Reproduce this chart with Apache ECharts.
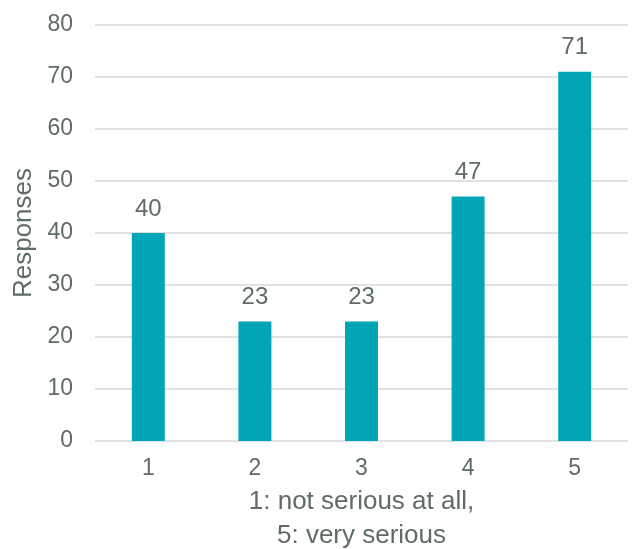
<!DOCTYPE html>
<html>
<head>
<meta charset="utf-8">
<script src="https://cdn.jsdelivr.net/npm/echarts@6/dist/echarts.min.js"></script>
<style>
  html, body { margin: 0; padding: 0; background: #fff; }
  #chart { width: 635px; height: 549px; }
</style>
</head>
<body>
<div id="chart"></div>
<script>
// Seriousness rating (1–5) and number of responses for each
const categories = ['1', '2', '3', '4', '5'];
const responses = [40, 23, 23, 47, 71];
const yTicks = { min: 0, max: 80, interval: 10 };

const textColor = '#5f6b6a';
const fontFamily = 'Liberation Sans, Arial, sans-serif';

const chart = echarts.init(document.getElementById('chart'));
chart.setOption({
  animation: false,
  textStyle: { fontFamily: fontFamily },
  grid: { left: 95, right: 7, top: 25, bottom: 108, containLabel: false, outerBoundsMode: 'none' },
  xAxis: {
    type: 'category',
    data: categories,
    name: '1: not serious at all,\n5: very serious',
    nameLocation: 'middle',
    nameGap: 39,
    nameTextStyle: { color: textColor, fontSize: 26, lineHeight: 34, fontFamily: fontFamily, verticalAlign: 'top' },
    axisLine: { show: false },
    axisTick: { show: false },
    axisLabel: { color: textColor, fontSize: 23, margin: 16, fontFamily: fontFamily }
  },
  yAxis: {
    type: 'value',
    min: yTicks.min,
    max: yTicks.max,
    interval: yTicks.interval,
    name: 'Responses',
    nameLocation: 'middle',
    nameGap: 49,
    nameTextStyle: { color: textColor, fontSize: 26, fontFamily: fontFamily },
    axisLine: { show: false },
    axisTick: { show: false },
    axisLabel: { color: textColor, fontSize: 23, margin: 22, fontFamily: fontFamily },
    splitLine: { lineStyle: { color: '#d9d9d9', width: 1.5 } }
  },
  series: [{
    type: 'bar',
    data: responses,
    barWidth: 33,
    itemStyle: { color: '#00a6b6' },
    label: {
      show: true,
      position: 'top',
      distance: 12,
      color: textColor,
      fontSize: 24,
      fontFamily: fontFamily
    }
  }]
});
</script>
</body>
</html>
